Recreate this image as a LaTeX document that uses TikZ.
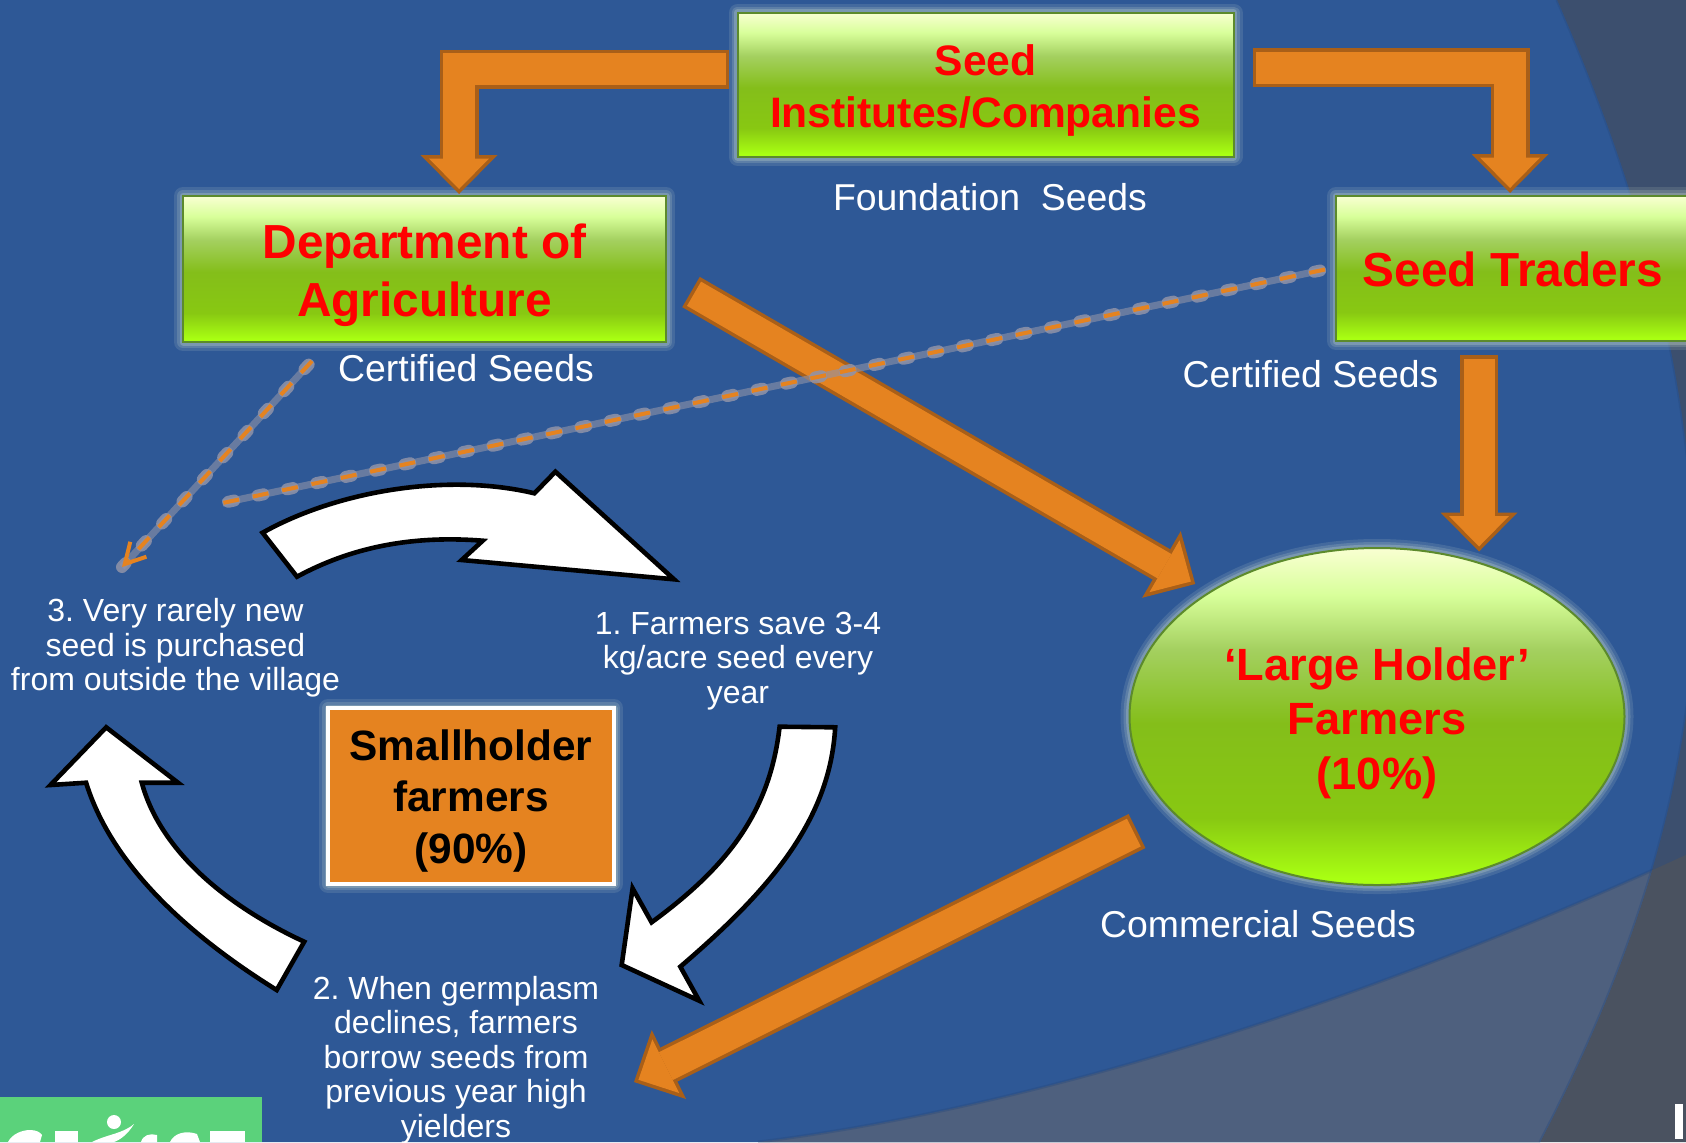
\documentclass[tikz,border=0pt]{standalone}
\usepackage{fontspec}
\setmainfont{Liberation Sans}
\usetikzlibrary{arrows.meta, shapes.geometric}

\definecolor{slideblue}{HTML}{2E5896}
\definecolor{cornerdark}{HTML}{3C4F6E}
\definecolor{bandlight}{HTML}{4E607E}
\definecolor{banddark}{HTML}{4A5260}
\definecolor{slideedge}{HTML}{284A7E}
\definecolor{arroworange}{HTML}{E58320}
\definecolor{arrowedge}{HTML}{A95F18}
\definecolor{logogreen}{HTML}{5BD27B}
\definecolor{boxedge}{HTML}{5C8A2C}
\definecolor{boxglow}{HTML}{E4F2D8}
\definecolor{dashglow}{HTML}{9093A8}
\definecolor{glassa}{HTML}{A9FF12}
\definecolor{glassb}{HTML}{88C812}
\definecolor{glassc}{HTML}{84BE1A}
\definecolor{glassd}{HTML}{A4D060}
\definecolor{glasse}{HTML}{D8FF9A}
\definecolor{glassf}{HTML}{F9FFD2}

\pgfdeclareverticalshading{greenglass}{100bp}{
    color(0bp)=(glassa);
    color(26bp)=(glassa);
    color(35bp)=(glassb);
    color(49bp)=(glassc);
    color(60bp)=(glassd);
    color(68bp)=(glasse);
    color(75bp)=(glassf);
    color(100bp)=(glassf)}

\frenchspacing

\begin{document}
\begin{tikzpicture}[x=0.5pt, y=-0.5pt,
            glow/.style={preaction={draw=boxglow, line width=9pt, opacity=0.12, line join=round},
                         preaction={draw=boxglow, line width=6pt, opacity=0.16, line join=round},
                         preaction={draw=boxglow, line width=3.5pt, opacity=0.22, line join=round}},
            green box/.style={glow, rectangle, shading=greenglass, draw=boxedge, line width=1pt,
                              inner sep=0pt, outer sep=0pt, align=center, text=red, font=\bfseries},
            seed label/.style={anchor=base, text=white, inner sep=0pt,
                               font=\fontsize{18.7}{22}\selectfont},
            cycle text/.style={text=white, inner sep=0pt, align=center,
                               font=\fontsize{16}{17.2}\selectfont},
            block arrow/.style 2 args={draw=arroworange, line width=#2, shorten >=2.5pt, shorten <=1.75pt,
                                       -{Triangle[length=15.25pt, width=30pt, line width=0pt]},
                                       preaction={draw=arrowedge, line width=#1, shorten >=0pt, shorten <=0pt,
                                                  -{Triangle[length=19.5pt, width=38.5pt, line width=0pt]}}},
            dash line/.style={draw=arroworange, line width=2pt, dash pattern=on 8pt off 7pt,
                              preaction={draw=dashglow, line width=3.5pt, solid, arrows=-, opacity=0.6},
                              preaction={draw=dashglow, line width=6pt, line cap=round, arrows=-, opacity=0.85,
                                         dash pattern=on 3pt off 12pt, dash phase=12.5pt}},
            cycle arrow/.style={draw=black, fill=white, line width=2.3pt, line join=miter},
            slide edge/.style={draw=slideedge, line width=1.5pt, opacity=0.4}]

            \useasboundingbox (0,0) rectangle (1686,1142);

            % Slide background
            \fill[cornerdark] (0,0) rectangle (1686,1142);
            \fill[banddark] (758,1142) .. controls (1020,1110) and (1350,1010) .. (1690,853)
                -- (1690,1142) -- cycle;
            \fill[slideblue] (0,0) -- (1557,0) .. controls (1640,190) and (1690,370) .. (1695,570)
                .. controls (1698,760) and (1640,950) .. (1540,1142) -- (0,1142) -- cycle;
            \begin{scope}
                \clip (0,0) -- (1557,0) .. controls (1640,190) and (1690,370) .. (1695,570)
                    .. controls (1698,760) and (1640,950) .. (1540,1142) -- (0,1142) -- cycle;
                \fill[bandlight] (758,1142) .. controls (1020,1110) and (1350,1010) .. (1690,853)
                    -- (1690,1142) -- cycle;
                \draw[slide edge] (758,1142) .. controls (1020,1110) and (1350,1010) .. (1690,853);
                \draw[slide edge] (1557,0) .. controls (1640,190) and (1690,370) .. (1695,570)
                    .. controls (1698,760) and (1640,950) .. (1540,1142);
            \end{scope}

            % Logo corner
            \fill[logogreen] (0,1097) rectangle (262,1142);
            \fill[white] (114,1122) circle (3.5pt);
            \fill[white] (92,1142) .. controls (108,1134) and (122,1134) .. (134,1124)
                .. controls (128,1134) and (120,1140) .. (114,1142) -- cycle;
            \fill[white] (8,1142) .. controls (12,1134) and (22,1130) .. (30,1130)
                .. controls (36,1130) and (40,1132) .. (42,1135) -- (40,1142) -- cycle;
            \fill[white] (55,1131) rectangle (78,1142);
            \fill[white] (141,1142) .. controls (143,1135) and (150,1133) .. (157,1135) -- (157,1142) -- cycle;
            \fill[white] (170,1142) .. controls (174,1133) and (186,1130) .. (197,1134) -- (200,1142) -- cycle;
            \fill[white] (210,1131) rectangle (245,1142);
            \fill[white] (1675,1104) rectangle (1683,1139);

            % Boxes
            \node[green box, minimum width=248pt, minimum height=72.25pt,
                  font=\bfseries\fontsize{21.3}{25.8}\selectfont] (seed) at (985.5,84.75) {\rule{0pt}{21pt}Seed\\Institutes/Companies};
            \node[green box, minimum width=241.5pt, minimum height=73pt,
                  font=\bfseries\fontsize{23.9}{29}\selectfont] (dept) at (424.5,269) {\rule{0pt}{24pt}Department of\\Agriculture};
            \node[green box, minimum width=177pt, minimum height=72.5pt,
                  font=\bfseries\fontsize{23.9}{28}\selectfont] (traders) at (1513,268.5) {\rule{0pt}{18.5pt}Seed Traders};
            \node[green box, ellipse, minimum width=247.5pt, minimum height=168.5pt,
                  font=\bfseries\fontsize{22.6}{27.4}\selectfont] (large) at (1377,716.5) {\rule{0pt}{23pt}‘Large Holder’\\Farmers\\(10\%)};
            \node[glow, rectangle, fill=arroworange, draw=white, line width=2pt, inner sep=0pt, outer sep=0pt,
                  minimum width=143pt, minimum height=88pt, align=center,
                  font=\bfseries\fontsize{21.2}{25.8}\selectfont] (small) at (471,796) {\rule{0pt}{20pt}Smallholder\\farmers\\(90\%)};

            % Labels
            \node[seed label] (foundation) at (990,210) {Foundation\ \ Seeds};
            \node[seed label] (certleft) at (466,381) {Certified Seeds};
            \node[seed label] (certright) at (1310.5,387) {Certified Seeds};
            \node[seed label] (commercial) at (1258,937) {Commercial Seeds};

            % Cycle steps
            \node[cycle text] (saved) at (738,661) {1. Farmers save 3-4\\kg/acre seed every\\year};
            \node[cycle text] (borrow) at (456,1060) {2. When germplasm\\declines, farmers\\borrow seeds from\\previous year high\\yielders};
            \node[cycle text] (bought) at (175.5,648) {3. Very rarely new\\seed is purchased\\from outside the village};

            % Seed flow arrows
            \draw[block arrow={19.5pt}{16pt}] ([shift={(-8.5,-15.75)}]seed.west) -| ([shift={(34.5,-2)}]dept.north);
            \draw[block arrow={19.5pt}{16pt}] ([shift={(19,-17.25)}]seed.east) -| ([shift={(-3,-3)}]traders.north);
            \draw[block arrow={19pt}{15.5pt}] ([shift={(-34,14)}]traders.south) -- ([shift={(102,3.5)}]large.north);
            \draw[block arrow={17.5pt}{14pt}] ([shift={(25,23)}]dept.east) -- ([shift={(65.7,-132.5)}]large.west);
            \draw[block arrow={19pt}{15.5pt}] ([shift={(7.5,114.5)}]large.west) -- ([shift={(178,22)}]borrow.center);

            % Rare purchases
            \draw[dash line, -{Straight Barb[length=10pt, width=11pt, line width=2pt]}] ([shift={(-112.5,19)}]dept.south) -- ([shift={(-53.5,-81)}]bought.center);
            \draw[dash line] ([shift={(-11,1)}]traders.west) -- ([shift={(47,-145)}]bought.center);

            % Cycle arrows
            \path[cycle arrow, draw, fill] (262.6,532.7) .. controls (335,492) and (445,472) .. (534.4,493.3)
                -- (555.4,471.7) -- (674,579.3) -- (461.7,560) -- (482.7,540.7)
                .. controls (410,535) and (350,548) .. (297,576.7) -- cycle;
            \path[cycle arrow, draw, fill] (779.6,726.7) -- (835.2,727.3) .. controls (830,820) and (770,890) .. (680.3,966.7)
                -- (699.2,1000.7) -- (621.7,965) -- (632.6,888.3) -- (651.6,922.3)
                .. controls (730,865) and (770,810) .. (779.6,726.7) -- cycle;
            \path[cycle arrow, draw, fill] (304.2,941.7) -- (276.7,990) .. controls (180,930) and (110,860) .. (86.1,782.7)
                -- (50.5,785) -- (106.2,727.3) -- (178,782.7) -- (141.8,782.7)
                .. controls (160,850) and (225,905) .. (304.2,941.7) -- cycle;
        \end{tikzpicture}
\end{document}
